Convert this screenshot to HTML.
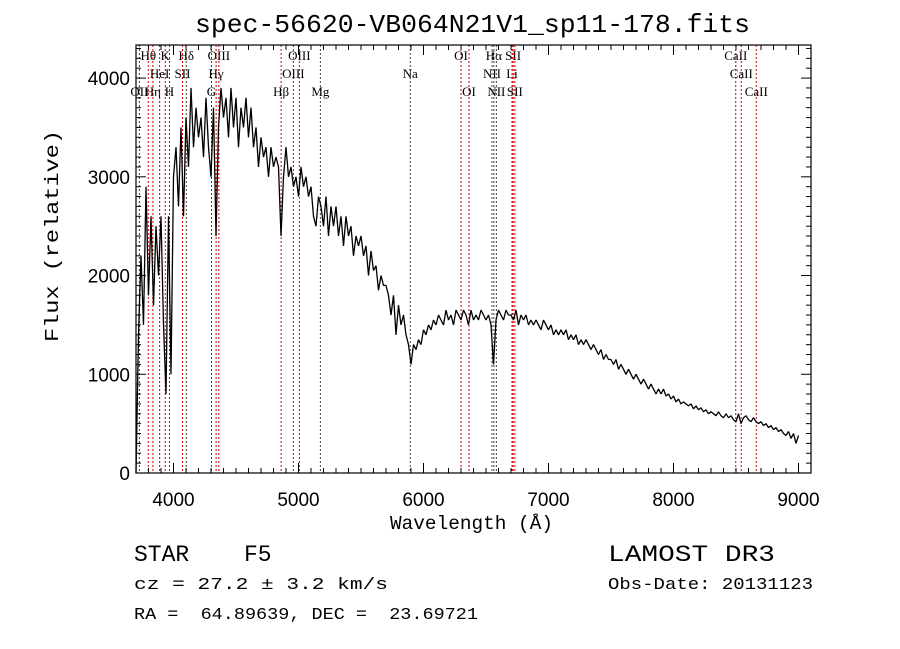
<!DOCTYPE html>
<html><head><meta charset="utf-8"><style>
body{margin:0;background:#fff}
svg{display:block}
text{white-space:pre}
.t{font-family:"Liberation Sans",sans-serif;font-size:19px}
.m{font-family:"Liberation Mono",monospace}
.l{font-family:"Liberation Serif",serif;font-size:13px}
</style></head><body>
<svg id="c" width="900" height="649" viewBox="0 0 900 649" xmlns="http://www.w3.org/2000/svg" xml:space="preserve">
<text x="195" y="32" textLength="555" lengthAdjust="spacingAndGlyphs" class="m" font-size="26">spec-56620-VB064N21V1_sp11-178.fits</text>
<text x="390" y="529" textLength="163" lengthAdjust="spacingAndGlyphs" class="m" font-size="19">Wavelength (Å)</text>
<text transform="translate(58,342) rotate(-90)" textLength="212" lengthAdjust="spacingAndGlyphs" class="m" font-size="19">Flux (relative)</text>
<text x="134" y="561" class="m" font-size="23">STAR</text>
<text x="244" y="561" class="m" font-size="23">F5</text>
<text x="134" y="589" textLength="254" lengthAdjust="spacingAndGlyphs" class="m" font-size="17">cz = 27.2 ± 3.2 km/s</text>
<text x="134" y="619" textLength="344" lengthAdjust="spacingAndGlyphs" class="m" font-size="17">RA =  64.89639, DEC =  23.69721</text>
<text x="608" y="561" textLength="167" lengthAdjust="spacingAndGlyphs" class="m" font-size="23">LAMOST DR3</text>
<text x="608" y="589" textLength="205" lengthAdjust="spacingAndGlyphs" class="m" font-size="17">Obs-Date: 20131123</text>
<g id="g"></g>
</svg>
<script>
const start=3700, step=20;
const flux=[0,1400,2200,1500,2900,1800,2600,1700,2500,2000,
2600,1500,800,2600,1000,3000,3300,2700,3500,2600,
3600,3100,3900,3300,3700,3400,3600,3200,3800,3300,
3000,3700,2400,3500,3900,3600,3800,3400,3900,3500,
3800,3300,3700,3500,3800,3400,3700,3300,3500,3100,
3400,3200,3300,3000,3300,3100,3200,3100,2400,3000,
3300,3000,3100,2900,3000,2800,3100,2900,3000,2800,
2900,2600,2500,2800,2700,2500,2800,2400,2700,2500,
2700,2400,2600,2300,2600,2400,2500,2200,2400,2300,
2400,2200,2300,2000,2250,2050,2100,1850,2000,1900,
1900,1800,1600,1800,1400,1700,1500,1600,1400,1300,
1100,1300,1250,1350,1300,1450,1400,1500,1450,1550,
1500,1600,1550,1500,1650,1550,1600,1500,1650,1600,
1550,1650,1600,1500,1650,1550,1600,1550,1650,1600,
1550,1600,1500,1100,1550,1650,1600,1550,1650,1600,
1600,1550,1650,1500,1600,1550,1600,1500,1550,1500,
1550,1500,1450,1550,1500,1450,1500,1400,1450,1400,
1450,1400,1450,1350,1400,1350,1400,1300,1350,1300,
1350,1300,1250,1300,1250,1200,1250,1150,1200,1150,
1150,1100,1150,1050,1100,1050,1000,1050,1000,950,
1000,950,900,950,900,850,900,850,800,850,
800,850,780,800,750,780,720,750,700,720,
700,680,700,650,680,640,660,620,640,600,
620,600,580,620,580,560,600,560,580,540,
520,600,500,560,580,540,520,560,520,500,
520,480,500,460,480,440,460,420,440,400,
380,420,350,400,300,380];
const lineWaves=[3727,3798,3835,3889,3934,3968,4072,4102,4304,4341,4363,4861,4959,5007,5175,5894,6300,6364,6548,6563,6583,6708,6717,6731,8498,8542,8662];
const lineNames=["OII","Hθ","Hη","HeI","K","H","SII","Hδ","G","Hγ","OIII","Hβ","OIII","OIII","Mg","Na","OI","OI","NII","Hα","NII","Li","SII","SII","CaII","CaII","CaII"];
const lineRows=[2,0,2,1,0,2,1,0,2,1,0,2,1,0,2,1,0,2,1,0,2,1,0,2,0,1,2];
const lineDark=[0,0,0,0,0,0,0,1,0,0,0,0,0,0,1,1,0,0,1,1,1,0,0,0,0,0,0];
const xTicks=[4000,5000,6000,7000,8000,9000];
const yTicks=[0,1000,2000,3000,4000];
const X0=136,X1=811,Y0=473,Y1=45,W0=3700,W1=9100,F1=4335;
const X=w=>X0+(w-W0)/(W1-W0)*(X1-X0);
const Y=f=>Y0-f/F1*(Y0-Y1);
const g=document.getElementById('g');
const NS='http://www.w3.org/2000/svg';
function mk(t,a){const e=document.createElementNS(NS,t);for(const k in a)e.setAttribute(k,a[k]);g.appendChild(e);return e;}
lineWaves.forEach((w,i)=>{
 const e=mk('line',{x1:X(w),x2:X(w),y1:Y1,y2:Y0,stroke:lineDark[i]?'#444':'#c00','stroke-width':1,'stroke-dasharray':'2,2'});
 
 
 const t=mk('text',{x:X(w),y:60+lineRows[i]*18,'text-anchor':'middle',class:'l'});
 t.textContent=lineNames[i];
 
 
});
let d='';flux.forEach((f,i)=>{d+=(i?'L':'M')+X(start+i*step).toFixed(1)+','+Y(f).toFixed(1);});
const p=mk('path',{d:d,fill:'none',stroke:'#000','stroke-width':1.3,'stroke-linejoin':'bevel'});


const fr=mk('rect',{x:X0,y:Y1,width:X1-X0,height:Y0-Y1,fill:'none',stroke:'#000','stroke-width':1.2});


for(let w=3800;w<W1;w+=100){const L=(w%1000===0)?10:5;
 mk('line',{x1:X(w),x2:X(w),y1:Y0,y2:Y0-L,stroke:'#000'});
 mk('line',{x1:X(w),x2:X(w),y1:Y1,y2:Y1+L,stroke:'#000'});}
for(let f=100;f<F1;f+=100){const L=(f%1000===0)?10:5;
 mk('line',{x1:X0,x2:X0+L,y1:Y(f),y2:Y(f),stroke:'#000'});
 mk('line',{x1:X1,x2:X1-L,y1:Y(f),y2:Y(f),stroke:'#000'});}
xTicks.forEach(w=>{const t=mk('text',{x:X(w),y:Y0+33,'text-anchor':'middle',class:'t'});t.textContent=w;
 
 });
yTicks.forEach(f=>{const t=mk('text',{x:X0-6,y:Y(f)+7,'text-anchor':'end',class:'t'});t.textContent=f;
 
 });
</script>
</body></html>
